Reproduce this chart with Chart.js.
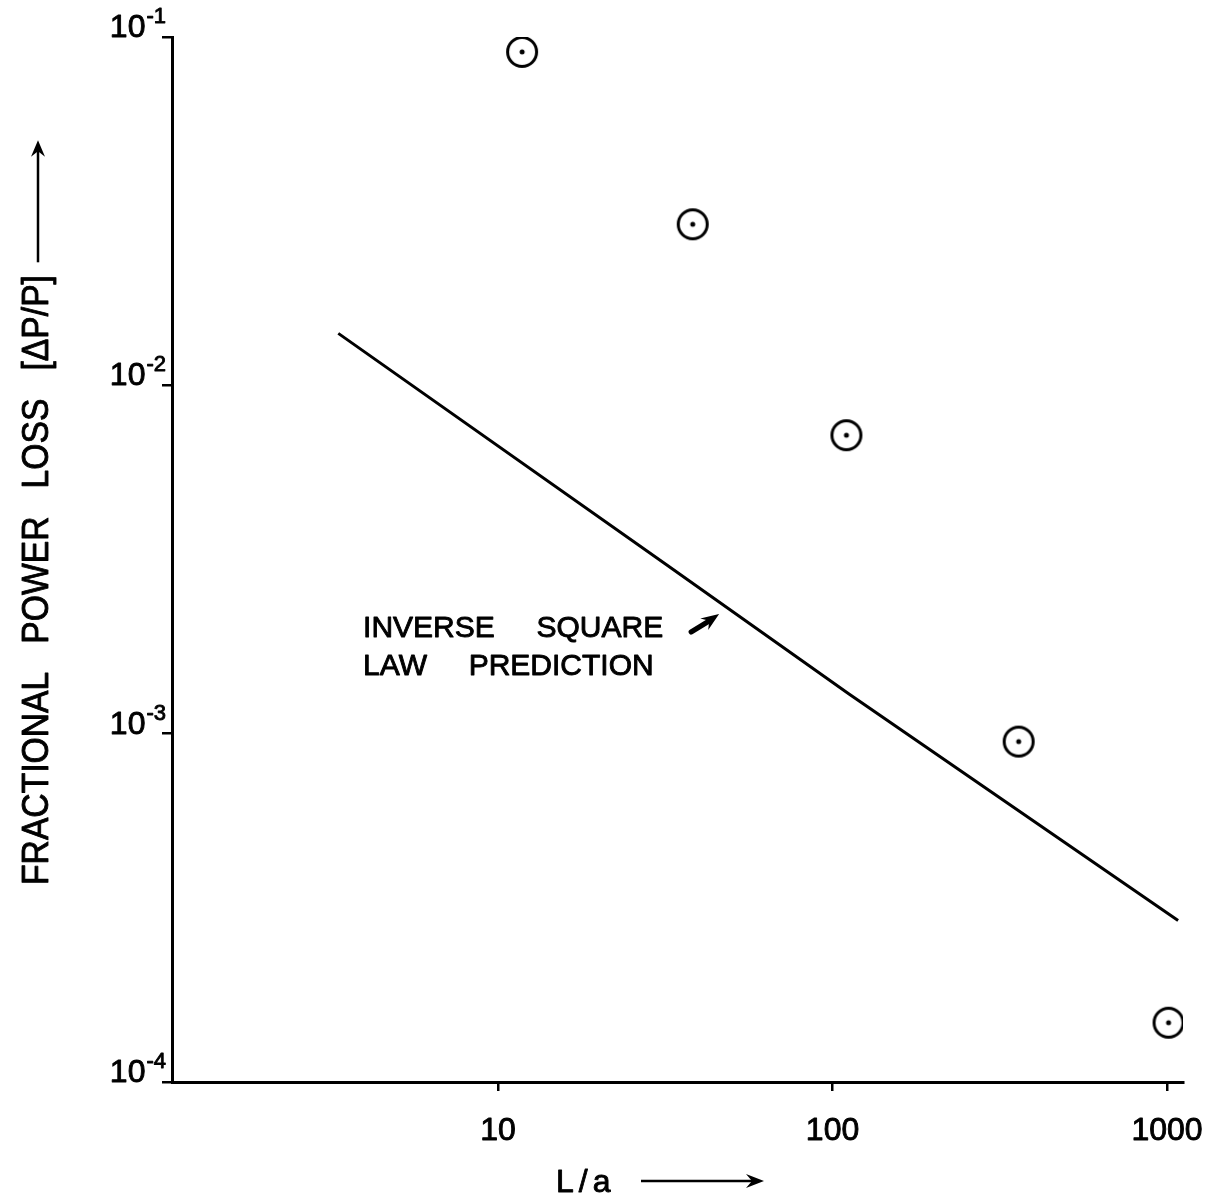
<!DOCTYPE html>
<html>
<head>
<meta charset="utf-8">
<title>Fractional power loss vs L/a</title>
<script src="https://cdn.jsdelivr.net/npm/chart.js@4.4.1/dist/chart.umd.min.js"></script>
<style>
    html, body { margin: 0; padding: 0; background: #fff; }
    #wrap { width: 1210px; height: 1199px; }
</style>
</head>
<body>
<div id="wrap"><canvas id="chart" width="1210" height="1199"></canvas></div>
<script>
// measured points (L/a, delta P / P)
const measuredX = [11.8, 38.2, 110, 360, 1010];
const measuredY = [0.0906, 0.029, 0.00719, 0.000949, 0.000148];

// inverse square law prediction
const predictionX = [3.33, 31.5, 112, 1079];
const predictionY = [0.0141, 0.00308, 0.0013, 0.000291];

const xTicks = [10, 100, 1000];
const xTickLabels = ['10', '100', '1000'];
const yTicks = [1e-1, 1e-2, 1e-3, 1e-4];
const yTickExponents = ['-1', '-2', '-3', '-4'];

const xTitle = 'L/a';
const yTitle = 'FRACTIONAL   POWER   LOSS   [\u0394P/P]';
const noteLines = ['INVERSE     SQUARE', 'LAW     PREDICTION'];
const noteAnchor = { x: 3.95, y: [0.00204, 0.00159] };

const FONT = '"Liberation Sans", Arial, sans-serif';

function makeMarker() {
    const c = document.createElement('canvas');
    c.width = 36;
    c.height = 36;
    const g = c.getContext('2d');
    g.fillStyle = '#fff';
    g.beginPath();
    g.arc(18, 18, 14.5, 0, 2 * Math.PI);
    g.fill();
    g.lineWidth = 3;
    g.strokeStyle = '#000';
    g.stroke();
    g.fillStyle = '#000';
    g.beginPath();
    g.arc(18, 18, 2.5, 0, 2 * Math.PI);
    g.fill();
    return c;
}

function arrowHead(ctx, x, y, angle) {
    ctx.save();
    ctx.translate(x, y);
    ctx.rotate(angle);
    ctx.beginPath();
    ctx.moveTo(0, 0);
    ctx.lineTo(-18, -7);
    ctx.lineTo(-12, 0);
    ctx.lineTo(-18, 7);
    ctx.closePath();
    ctx.fill();
    ctx.restore();
}

// heavier text, like the photocopied original
function inkText(ctx, text, x, y) {
    ctx.fillText(text, x, y);
    ctx.strokeText(text, x, y);
}

// tick labels, axis titles and the note
const decorations = {
    id: 'decorations',
    afterDraw(chart) {
        const ctx = chart.ctx;
        const area = chart.chartArea;
        const xs = chart.scales.x;
        const ys = chart.scales.y;
        ctx.save();
        ctx.fillStyle = '#000';
        ctx.strokeStyle = '#000';
        ctx.lineWidth = 0.9;
        ctx.lineJoin = 'round';

        // x tick labels
        ctx.font = '32px ' + FONT;
        ctx.textAlign = 'center';
        ctx.textBaseline = 'alphabetic';
        xTicks.forEach((v, i) => {
            inkText(ctx, xTickLabels[i], xs.getPixelForValue(v), area.bottom + 58);
        });

        // y tick labels: 10^-n
        ctx.textAlign = 'right';
        yTicks.forEach((v, i) => {
            const py = ys.getPixelForValue(v);
            const right = area.left - 6;
            ctx.font = '22px ' + FONT;
            const ew = ctx.measureText(yTickExponents[i]).width;
            inkText(ctx, yTickExponents[i], right, py - 14);
            ctx.font = '32px ' + FONT;
            inkText(ctx, '10', right - ew - 1, py);
        });

        // y title, rotated, with arrow
        ctx.save();
        ctx.translate(38, area.bottom - 197);
        ctx.rotate(-Math.PI / 2);
        ctx.scale(0.91, 1);
        ctx.font = '37px ' + FONT;
        ctx.textAlign = 'left';
        ctx.textBaseline = 'middle';
        inkText(ctx, yTitle, 0, 0);
        const tw = ctx.measureText(yTitle).width;
        ctx.lineWidth = 2.5;
        ctx.beginPath();
        ctx.moveTo(tw + 14, 0);
        ctx.lineTo(tw + 142, 0);
        ctx.stroke();
        arrowHead(ctx, tw + 148, 0, 0);
        ctx.restore();

        // x title with arrow
        ctx.font = '32px ' + FONT;
        ctx.textAlign = 'left';
        ctx.letterSpacing = '5px';
        const tx = 556;
        const ty = area.bottom + 110;
        inkText(ctx, xTitle, tx, ty);
        ctx.letterSpacing = '0px';
        ctx.lineWidth = 2.5;
        ctx.beginPath();
        ctx.moveTo(641, ty - 11);
        ctx.lineTo(752, ty - 11);
        ctx.stroke();
        arrowHead(ctx, 764, ty - 11, 0);

        // note with its small arrow
        ctx.font = '30px ' + FONT;
        ctx.lineWidth = 0.9;
        const nx = xs.getPixelForValue(noteAnchor.x);
        noteLines.forEach((line, i) => {
            inkText(ctx, line, nx, ys.getPixelForValue(noteAnchor.y[i]) + 11);
        });
        ctx.lineWidth = 5;
        ctx.lineCap = 'round';
        ctx.beginPath();
        ctx.moveTo(nx + 328, 632);
        ctx.lineTo(nx + 346, 621);
        ctx.stroke();
        arrowHead(ctx, nx + 356, 614, -0.6);
        ctx.restore();
    }
};

const ctx = document.getElementById('chart').getContext('2d');

new Chart(ctx, {
    type: 'scatter',
    data: {
        datasets: [
            {
                label: 'Inverse square law prediction',
                data: predictionX.map((x, i) => ({ x, y: predictionY[i] })),
                showLine: true,
                borderColor: '#000',
                borderWidth: 3,
                pointRadius: 0,
                fill: false
            },
            {
                label: 'Measured',
                data: measuredX.map((x, i) => ({ x, y: measuredY[i] })),
                pointStyle: makeMarker(),
                pointRadius: 18
            }
        ]
    },
    options: {
        responsive: false,
        animation: false,
        layout: { padding: { left: 0, top: 37, right: 27, bottom: 0 } },
        plugins: {
            legend: { display: false },
            tooltip: { enabled: false }
        },
        scales: {
            x: {
                type: 'logarithmic',
                min: 1.06,
                max: 1116,
                afterBuildTicks: (s) => { s.ticks = xTicks.map(v => ({ value: v })); },
                afterFit: (s) => { s.height = 117; },
                border: { color: '#000', width: 3 },
                grid: { drawOnChartArea: false, drawTicks: true, tickLength: 9, color: '#000', lineWidth: 2.5 },
                ticks: { autoSkip: false, maxRotation: 0, callback: () => '' }
            },
            y: {
                type: 'logarithmic',
                min: 1e-4,
                max: 1e-1,
                afterBuildTicks: (s) => { s.ticks = yTicks.map(v => ({ value: v })); },
                afterFit: (s) => { s.width = 172; },
                border: { color: '#000', width: 3 },
                grid: { drawOnChartArea: false, drawTicks: true, tickLength: 10, color: '#000', lineWidth: 2.5 },
                ticks: { callback: () => '' }
            }
        }
    },
    plugins: [decorations]
});
</script>
</body>
</html>
